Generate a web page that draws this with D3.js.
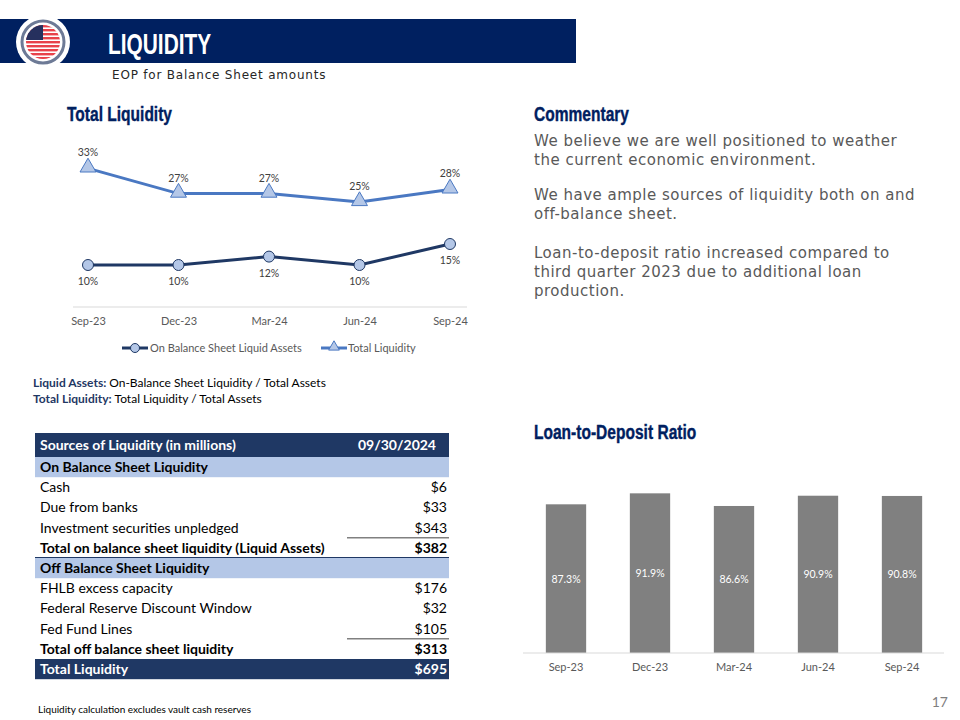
<!DOCTYPE html>
<html>
<head>
<meta charset="utf-8">
<script src="https://cdn.jsdelivr.net/npm/d3@7"></script>
<style>
  body { margin: 0; background: #fff; }
  svg text { font-family: "Lato", "Liberation Sans", sans-serif; }
</style>
</head>
<body>
<div id="chart"></div>
<script>
var quarters = ["Sep-23", "Dec-23", "Mar-24", "Jun-24", "Sep-24"];
var onBalance = [10, 10, 12, 10, 15];
var totalLiquidity = [33, 27, 27, 25, 28];
var loanToDeposit = [87.3, 91.9, 86.6, 90.9, 90.8];

var tableLabels = [
	"On Balance Sheet Liquidity",
	"Cash",
	"Due from banks",
	"Investment securities unpledged",
	"Total on balance sheet liquidity (Liquid Assets)",
	"Off Balance Sheet Liquidity",
	"FHLB excess capacity",
	"Federal Reserve Discount Window",
	"Fed Fund Lines",
	"Total off balance sheet liquidity",
	"Total Liquidity"
];
var tableValues = [null, 6, 33, 343, 382, null, 176, 32, 105, 313, 695];
var rowKinds = ["section", "item", "item", "under", "total", "section", "item", "item", "under", "total", "grand"];

var commentary = [
	["We believe we are well positioned to weather", "the current economic environment."],
	["We have ample sources of liquidity both on and", "off-balance sheet."],
	["Loan-to-deposit ratio increased compared to", "third quarter 2023 due to additional loan", "production."]
];

var navy = "#002060",
	darkBlue = "#1f3864",
	midBlue = "#4a78c2",
	paleBlue = "#b4c7e7",
	grey = "#595959";

var svg = d3.select("#chart").append("svg")
	.attr("width", 960)
	.attr("height", 720);

//////////////////////HEADER//////////////////////
svg.append("rect").attr("x", 0).attr("y", 19).attr("width", 576).attr("height", 44).attr("fill", navy);

var logo = svg.append("g").attr("transform", "translate(43,42)");
logo.append("circle").attr("r", 27).attr("fill", "#fff");
logo.append("circle").attr("r", 21).attr("fill", "#fff").attr("stroke", "#6d7a96").attr("stroke-width", 3);
logo.append("clipPath").attr("id", "flagClip").append("circle").attr("r", 17);
var flag = logo.append("g").attr("clip-path", "url(#flagClip)");
flag.append("rect").attr("x", -17).attr("y", -17).attr("width", 34).attr("height", 34).attr("fill", "#fff");
d3.range(9).forEach(function(i) {
	flag.append("rect").attr("x", -17).attr("y", -17 + i * 4).attr("width", 34).attr("height", 2.4).attr("fill", "#e8424a");
});
flag.append("rect").attr("x", -17).attr("y", -17).attr("width", 17).attr("height", 15).attr("fill", "#26305e");

svg.append("text").attr("transform", "translate(108,54) scale(0.72,1)")
	.style("font-family", "'Liberation Sans', Arial, sans-serif")
	.attr("font-weight", "bold").attr("font-size", 29).attr("fill", "#fff")
	.text("LIQUIDITY");

svg.append("text").attr("x", 112).attr("y", 79)
	.style("font-family", "'DejaVu Sans', Verdana, sans-serif")
	.attr("font-size", 12).attr("letter-spacing", 0.8).attr("fill", "#262626")
	.text("EOP for Balance Sheet amounts");

function heading(x, y, label) {
	svg.append("text").attr("transform", "translate(" + x + "," + y + ") scale(0.74,1)")
		.style("font-family", "'Liberation Sans', Arial, sans-serif")
		.attr("font-weight", "bold").attr("font-size", 21).attr("fill", navy)
		.attr("stroke", navy).attr("stroke-width", 0.4)
		.text(label);
}
heading(67, 121, "Total Liquidity");
heading(534, 121, "Commentary");
heading(534, 439, "Loan-to-Deposit Ratio");

//////////////////////LINE CHART//////////////////////
var xLine = d3.scalePoint().domain(quarters).range([88, 450]);
var yLine = d3.scaleLinear().domain([0, 35]).range([307, 160]);

var xAxisLine = svg.append("g").attr("transform", "translate(0,307)")
	.call(d3.axisBottom(xLine).tickSize(0).tickPadding(10));
xAxisLine.select(".domain").attr("d", "M73,0H467").attr("stroke", "#d9d9d9");
xAxisLine.selectAll("text").attr("font-size", 11).attr("fill", grey)
	.style("font-family", "'Lato', sans-serif");

var lineGen = d3.line().x(function(d, i) { return xLine(quarters[i]); }).y(function(d) { return yLine(d); });

svg.append("path").datum(totalLiquidity).attr("d", lineGen)
	.attr("fill", "none").attr("stroke", midBlue).attr("stroke-width", 3);
svg.append("path").datum(onBalance).attr("d", lineGen)
	.attr("fill", "none").attr("stroke", darkBlue).attr("stroke-width", 3);

var tri = d3.symbol().type(d3.symbolTriangle).size(110);
svg.selectAll(".tri").data(totalLiquidity).enter().append("path")
	.attr("transform", function(d, i) { return "translate(" + xLine(quarters[i]) + "," + (yLine(d) - 1) + ")"; })
	.attr("d", tri).attr("fill", paleBlue).attr("stroke", midBlue).attr("stroke-width", 1);

svg.selectAll(".dot").data(onBalance).enter().append("circle")
	.attr("cx", function(d, i) { return xLine(quarters[i]); })
	.attr("cy", function(d) { return yLine(d); })
	.attr("r", 5.5).attr("fill", paleBlue).attr("stroke", darkBlue).attr("stroke-width", 1);

svg.selectAll(".tlab").data(totalLiquidity).enter().append("text")
	.attr("x", function(d, i) { return xLine(quarters[i]); })
	.attr("y", function(d) { return yLine(d) - 12; })
	.attr("text-anchor", "middle").attr("font-size", 10.5).attr("fill", "#404040")
	.text(function(d) { return d + "%"; });

svg.selectAll(".olab").data(onBalance).enter().append("text")
	.attr("x", function(d, i) { return xLine(quarters[i]); })
	.attr("y", function(d) { return yLine(d) + 20; })
	.attr("text-anchor", "middle").attr("font-size", 10.5).attr("fill", "#404040")
	.text(function(d) { return d + "%"; });

// legend
var legend = svg.append("g").attr("transform", "translate(0,348)");
legend.append("line").attr("x1", 122).attr("x2", 148).attr("stroke", darkBlue).attr("stroke-width", 3);
legend.append("circle").attr("cx", 135).attr("r", 4.5).attr("fill", paleBlue).attr("stroke", darkBlue);
legend.append("text").attr("x", 150).attr("y", 4).attr("font-size", 11).attr("fill", grey).text("On Balance Sheet Liquid Assets");
legend.append("line").attr("x1", 321).attr("x2", 347).attr("stroke", midBlue).attr("stroke-width", 3);
legend.append("path").attr("transform", "translate(334,-1)").attr("d", d3.symbol().type(d3.symbolTriangle).size(50))
	.attr("fill", paleBlue).attr("stroke", midBlue);
legend.append("text").attr("x", 348).attr("y", 4).attr("font-size", 11).attr("fill", grey).text("Total Liquidity");

// definitions
var def1 = svg.append("text").attr("x", 33).attr("y", 387).attr("font-size", 12);
def1.append("tspan").attr("font-weight", "bold").attr("fill", darkBlue).text("Liquid Assets: ");
def1.append("tspan").attr("fill", "#000").text("On-Balance Sheet Liquidity / Total Assets");
var def2 = svg.append("text").attr("x", 33).attr("y", 403).attr("font-size", 12);
def2.append("tspan").attr("font-weight", "bold").attr("fill", darkBlue).text("Total Liquidity: ");
def2.append("tspan").attr("fill", "#000").text("Total Liquidity / Total Assets");

//////////////////////TABLE//////////////////////
var tLeft = 35, tRight = 449, rowH = 20.2, top0 = 457;

svg.append("rect").attr("x", tLeft).attr("y", 433).attr("width", tRight - tLeft).attr("height", 24).attr("fill", darkBlue);
svg.append("text").attr("x", 40).attr("y", 450).attr("font-size", 14).attr("font-weight", "bold").attr("fill", "#fff")
	.text("Sources of Liquidity (in millions)");
svg.append("text").attr("x", 397).attr("y", 450).attr("text-anchor", "middle").attr("font-size", 14).attr("font-weight", "bold").attr("fill", "#fff")
	.text("09/30/2024");

tableLabels.forEach(function(label, i) {
	var kind = rowKinds[i],
		y = top0 + i * rowH,
		bold = kind === "section" || kind === "total" || kind === "grand",
		color = kind === "grand" ? "#fff" : "#000";
	if (kind === "section") {
		svg.append("rect").attr("x", tLeft).attr("y", y).attr("width", tRight - tLeft).attr("height", rowH).attr("fill", paleBlue);
	}
	if (kind === "grand") {
		svg.append("rect").attr("x", tLeft).attr("y", y).attr("width", tRight - tLeft).attr("height", rowH).attr("fill", darkBlue);
	}
	svg.append("text").attr("x", 40).attr("y", y + 15).attr("font-size", 14)
		.attr("font-weight", bold ? "bold" : "normal").attr("fill", color).text(label);
	if (tableValues[i] !== null) {
		svg.append("text").attr("x", 447).attr("y", y + 15).attr("text-anchor", "end").attr("font-size", 14)
			.attr("font-weight", bold ? "bold" : "normal").attr("fill", color).text("$" + tableValues[i]);
	}
	if (kind === "under") {
		svg.append("line").attr("x1", 347).attr("x2", tRight).attr("y1", y + rowH).attr("y2", y + rowH)
			.attr("stroke", "#808080").attr("stroke-width", 1.5);
	}
	if (kind === "total" && i < 5) {
		svg.append("line").attr("x1", tLeft).attr("x2", tRight).attr("y1", y + rowH).attr("y2", y + rowH)
			.attr("stroke", darkBlue).attr("stroke-width", 2);
	}
});

svg.append("text").attr("x", 38).attr("y", 713).attr("font-size", 10).attr("fill", "#000")
	.text("Liquidity calculation excludes vault cash reserves");

//////////////////////COMMENTARY//////////////////////
var cy = 146;
commentary.forEach(function(par, p) {
	par.forEach(function(line, j) {
		svg.append("text").attr("x", 534).attr("y", cy).attr("font-size", 15).attr("letter-spacing", 0.5)
			.style("font-family", "'DejaVu Sans', Verdana, sans-serif")
			.attr("fill", grey).text(line);
		cy += 19;
	});
	cy += p === 0 ? 16 : 20;
});

//////////////////////BAR CHART//////////////////////
var xBar = d3.scaleBand().domain(quarters).range([524, 944]).paddingInner(0.52).paddingOuter(0.26);
var yBar = d3.scaleLinear().domain([25, 100]).range([653, 474]);

svg.selectAll(".bar").data(loanToDeposit).enter().append("rect")
	.attr("x", function(d, i) { return xBar(quarters[i]); })
	.attr("y", function(d) { return yBar(d); })
	.attr("width", xBar.bandwidth())
	.attr("height", function(d) { return yBar(25) - yBar(d); })
	.attr("fill", "#808080");

svg.selectAll(".blab").data(loanToDeposit).enter().append("text")
	.attr("x", function(d, i) { return xBar(quarters[i]) + xBar.bandwidth() / 2; })
	.attr("y", function(d) { return (yBar(d) + yBar(25)) / 2 + 4; })
	.attr("text-anchor", "middle").attr("font-size", 10.5).attr("fill", "#fff")
	.text(function(d) { return d.toFixed(1) + "%"; });

var xAxisBar = svg.append("g").attr("transform", "translate(0,653)")
	.call(d3.axisBottom(xBar).tickSize(0).tickPadding(10));
xAxisBar.select(".domain").attr("d", "M523,0H944").attr("stroke", "#d9d9d9");
xAxisBar.selectAll("text").attr("font-size", 11).attr("fill", grey)
	.style("font-family", "'Lato', sans-serif");

svg.append("text").attr("x", 948).attr("y", 707).attr("text-anchor", "end").attr("font-size", 14).attr("fill", "#7f7f7f")
	.text("17");
</script>
</body>
</html>
